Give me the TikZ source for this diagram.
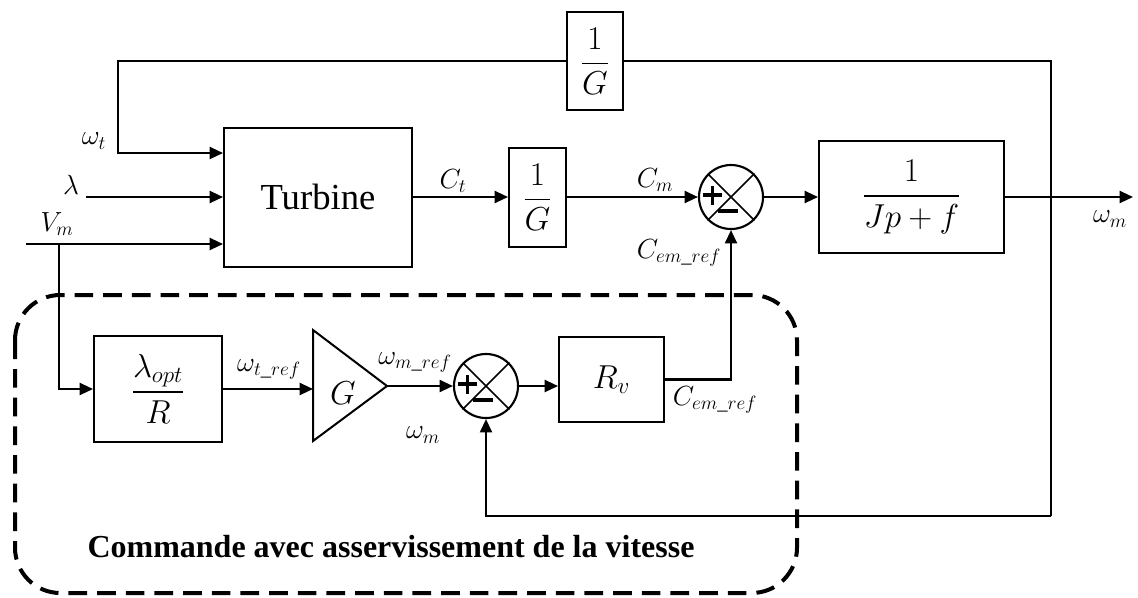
\documentclass[tikz,border=0pt]{standalone}
\usepackage{amsmath}
\usepackage{fontspec}
\setmainfont{Liberation Serif}
\usetikzlibrary{arrows.meta,calc}
\newcommand{\sumsigns}[1]{%
  \draw[line width=1.1pt] (#1.45) -- (#1.225) (#1.135) -- (#1.315);
  \draw[line width=2.6pt] ($(#1)+(-28,-2)$) -- ($(#1)+(-9,-2)$)
                          ($(#1)+(-18.5,-11.5)$) -- ($(#1)+(-18.5,7.5)$);
  \draw[line width=2.6pt] ($(#1)+(-13,14)$) -- ($(#1)+(7,14)$);}
\begin{document}
\begin{tikzpicture}[x=0.75pt,y=-0.75pt,line width=1.6pt,
  arr/.style={-{Triangle[length=10pt,width=9pt]}},
  blk/.style={draw,rectangle,inner sep=0pt,line width=1.5pt},
  sumj/.style={draw,circle,minimum size=48pt,inner sep=0pt,line width=1.6pt},
  lbl/.style={font=\fontsize{22}{25}\selectfont,inner sep=0pt},
  fracf/.style={font=\fontsize{23}{27}\selectfont}]
\useasboundingbox (0,0) rectangle (1138,597);

% blocks
\node[blk,minimum width=141pt,minimum height=104.25pt,font=\fontsize{27.5}{30}\selectfont] (turb) at (318,197) {Turbine};
\node[blk,minimum width=42.75pt,minimum height=74.25pt,fracf] (g1) at (537.5,197) {$\displaystyle\frac{1}{G}$};
\node[sumj] (s1) at (731,197) {};
\node[blk,minimum width=138.75pt,minimum height=84pt,fracf] (J) at (911.5,197) {$\displaystyle\frac{1}{Jp+f}$};
\node[blk,minimum width=42pt,minimum height=73.5pt,fracf] (topG) at (595,61) {$\displaystyle\frac{1}{G}$};
\node[blk,minimum width=96pt,minimum height=79.5pt,fracf] (lamR) at (158,389) {$\displaystyle\frac{\lambda_{opt}}{R}$};
\node[sumj] (s2) at (486,386) {};
\node[blk,minimum width=78.75pt,minimum height=63.75pt,font=\fontsize{27}{30}\selectfont] (Rv) at (611.5,379.5) {$R_v$};

\sumsigns{s1}
\sumsigns{s2}

% gain triangle
\draw[line width=1.5pt] (313,330) -- (387,386) -- (313,441) -- cycle;
\coordinate (triA) at (387,386);
\coordinate (triB) at (313,389);
\node[font=\fontsize{25}{28}\selectfont] (Gt) at (343,393) {$G$};

% coordinates
\coordinate (wt) at (118,153);
\coordinate (lam) at (86,197);
\coordinate (vm) at (26,244);
\coordinate (vmb) at (59,244);
\coordinate (out) at (1133,197);
\coordinate (fb) at (1051,516);
\coordinate (cem) at (731,379.5);

% connectors
\draw[arr] (topG.west) -| (wt) -- (wt -| turb.west);
\draw[arr] (lam) -- (lam -| turb.west);
\draw[arr] (vm) -- (vm -| turb.west);
\draw[arr] (vmb) |- (lamR.west);
\draw[arr] (turb.east) -- (g1.west);
\draw[arr] (g1.east) -- (s1.west);
\draw[arr] (s1.east) -- (J.west);
\draw[arr] (J.east) -- (out);
\draw (topG.east) -| (fb);
\draw[arr] (fb) -| (s2.south);
\draw[arr] (lamR.east) -- (triB);
\draw[arr] (triA) -- (s2.west);
\draw[arr] (s2.east) -- (s2.east -| Rv.west);
\draw[arr] (Rv.east) -- (cem) -- (s1.south);

% labels
\node[lbl] at (94,141) {$\omega_t$};
\node[lbl] at (71,185) {$\lambda$};
\node[lbl] at (57,224) {$V_m$};
\node[lbl] at (453,181) {$C_t$};
\node[lbl] at (655,180) {$C_m$};
\node[lbl] at (679,253) {$C_{em\_ref}$};
\node[lbl] at (1110,219) {$\omega_m$};
\node[lbl] at (269,369) {$\omega_{t\_ref}$};
\node[lbl] at (415,362) {$\omega_{m\_ref}$};
\node[lbl] at (423,435) {$\omega_m$};
\node[lbl] at (715,400) {$C_{em\_ref}$};

% dashed region
\draw[line width=3pt,dash pattern=on 14pt off 7.5pt,rounded corners=34pt] (15,295) rectangle (797,593);
\node[font=\fontsize{24}{28}\selectfont\bfseries] (cmd) at (391,547) {Commande avec asservissement de la vitesse};
\end{tikzpicture}
\end{document}
